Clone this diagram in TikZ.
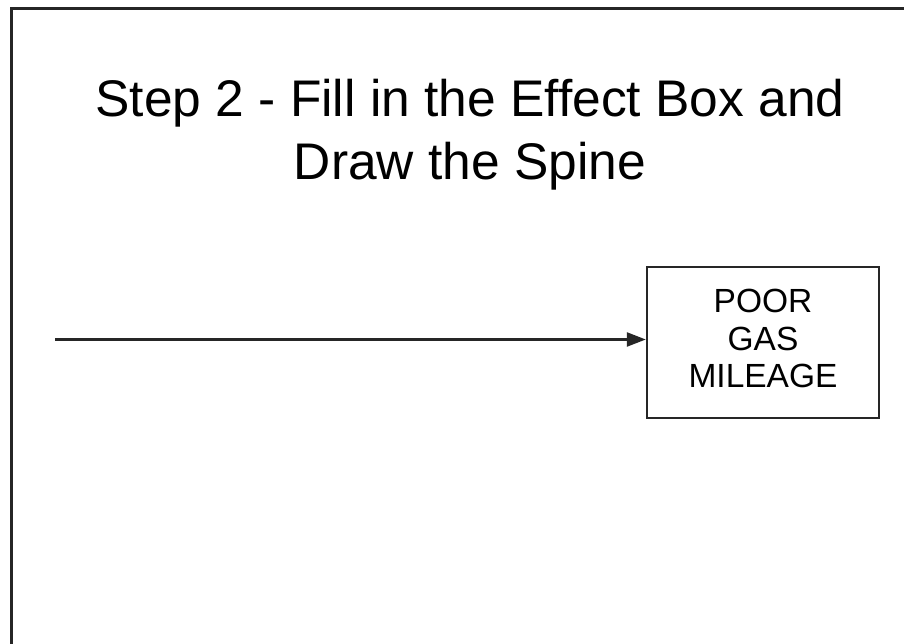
\documentclass[tikz,border=0pt]{standalone}
\usepackage{fontspec}
\setmainfont{Liberation Sans}
\usetikzlibrary{arrows.meta}
\begin{document}
\begin{tikzpicture}[x=1pt,y=1pt,
  frameline/.style={line width=3pt,black!85},
  effectbox/.style={draw,line width=2.4pt,black!85,text=black,minimum width=232pt,minimum height=151pt,
    align=center,font=\fontsize{33.5}{39}\selectfont,inner sep=0pt},
  spine/.style={line width=2.4pt,black!85,-{Triangle[length=19pt,width=14pt]}},
  heading/.style={align=center,font=\fontsize{51.5}{63}\selectfont}]
  \useasboundingbox (0,0) rectangle (904,644);
  % open frame: left side and top edge
  \draw[frameline] (11,-5) -- (11,635) -- (910,635);
  % title (base anchor sits on the last line)
  \node[heading,anchor=base] (title) at (470,464) {Step 2 - Fill in the Effect Box and\\Draw the Spine};
  % effect box
  \node[effectbox] (effect) at (763,301.5) {\raisebox{3pt}{\begin{tabular}{@{}c@{}}POOR\\[-1.5pt]GAS\\[-1.5pt]MILEAGE\end{tabular}}};
  % spine
  \coordinate (tail) at (55,304.5);
  \draw[spine] (tail) -- (tail -| effect.west);
\end{tikzpicture}
\end{document}
